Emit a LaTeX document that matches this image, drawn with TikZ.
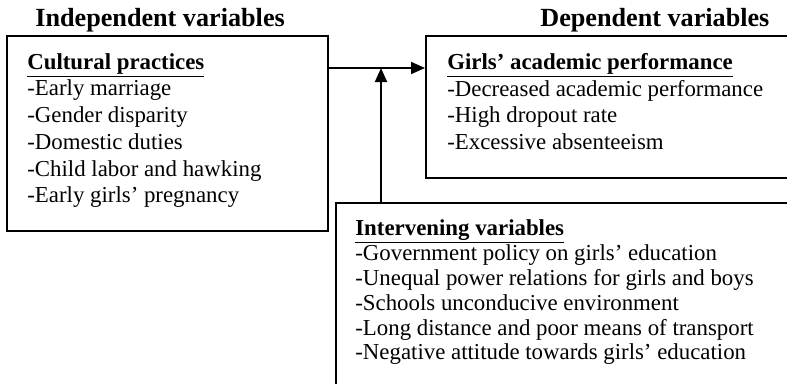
\documentclass[tikz,border=0pt]{standalone}
\usepackage{fontspec}
\setmainfont{Liberation Serif}
\usetikzlibrary{arrows.meta}
\usetikzlibrary{calc}

\tikzset{
  varbox/.style={draw, line width=1.1pt, anchor=north west, inner sep=0pt},
  vartext/.style={anchor=north west, align=left, inner sep=0pt, font=\fontsize{13}{15.2}\selectfont},
  vartitle/.style={anchor=base west, inner sep=0pt, font=\fontsize{14.9}{17}\selectfont\bfseries},
  link/.style={line width=1.1pt, -{Triangle[length=0.28cm,width=0.24cm]}}
}

\begin{document}
\begin{tikzpicture}[x=0.02cm, y=-0.02cm]
		\useasboundingbox (0,0) rectangle (787,383);
		\clip (0,0) rectangle (787,383);
		\node (indtitle) [vartitle] at (35,26) {Independent variables};
		\node (deptitle) [vartitle] at (540,26) {Dependent variables};
		\node (indbox) [varbox, minimum width=6.42cm, minimum height=3.9cm] at (6,35) {};
		\node (depbox) [varbox, minimum width=7.5cm, minimum height=2.84cm] at (425,35) {};
		\node (intbox) [varbox, minimum width=9.3cm, minimum height=3.96cm] at (335,202) {};
		\node (indtext) [vartext] at (27,53) {\underline{\textbf{Cultural practices}}\\
			-Early marriage\\ -Gender disparity\\ -Domestic duties\\
			-Child labor and hawking\\ -Early girls' pregnancy};
		\node (deptext) [vartext] at (447,53) {\underline{\textbf{Girls' academic performance}}\\
			-Decreased academic performance\\ -High dropout rate\\ -Excessive absenteeism};
		\node (inttext) [vartext, font=\fontsize{13}{14.2}\selectfont] at (355,219) {\underline{\textbf{Intervening variables}}\\
			-Government policy on girls' education\\ -Unequal power relations for girls and boys\\
			-Schools unconducive environment\\ -Long distance and poor means of transport\\
			-Negative attitude towards girls' education};
		\coordinate (joint) at (381,68);
		\draw [link] (indbox.east |- joint) -- (depbox.west |- joint);
		\draw [link] (joint |- intbox.north) -- (joint);
	\end{tikzpicture}
\end{document}
